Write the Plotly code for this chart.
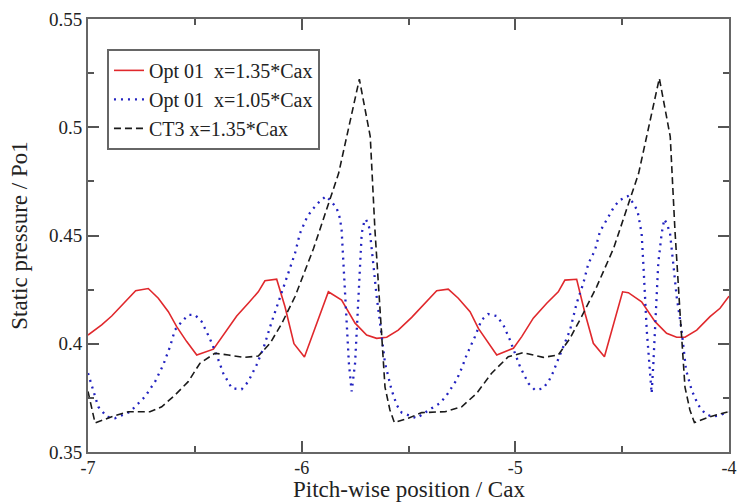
import plotly.graph_objects as go

# ---- data ----
red_x = [-7.000, -6.936, -6.889, -6.842, -6.777, -6.718, -6.671, -6.624, -6.585, -6.538,
         -6.491, -6.413, -6.359, -6.304, -6.250, -6.203, -6.172, -6.117, -6.078, -6.036,
         -5.987, -5.875, -5.813, -5.750, -5.696, -5.649, -5.602, -5.548, -5.485, -5.431,
         -5.368, -5.314, -5.267, -5.212, -5.173, -5.087, -5.009, -4.970, -4.916, -4.853,
         -4.799, -4.768, -4.713, -4.674, -4.635, -4.583, -4.498, -4.471, -4.409, -4.346,
         -4.292, -4.245, -4.206, -4.151, -4.089, -4.042, -4.000]
red_y = [0.4040, 0.4087, 0.4128, 0.4175, 0.4245, 0.4255, 0.4210, 0.4148, 0.4079, 0.4010,
         0.3948, 0.3975, 0.4048, 0.4128, 0.4187, 0.4240, 0.4291, 0.4298, 0.4171, 0.4000,
         0.3939, 0.4240, 0.4202, 0.4095, 0.4040, 0.4025, 0.4030, 0.4063, 0.4122, 0.4180,
         0.4245, 0.4252, 0.4210, 0.4148, 0.4071, 0.3948, 0.3979, 0.4033, 0.4118, 0.4187,
         0.4240, 0.4294, 0.4298, 0.4141, 0.4002, 0.3940, 0.4240, 0.4236, 0.4194, 0.4102,
         0.4048, 0.4030, 0.4030, 0.4063, 0.4125, 0.4164, 0.4220]

blue_x = [-7.000, -6.975, -6.952, -6.912, -6.874, -6.803, -6.765, -6.733, -6.686, -6.648,
          -6.616, -6.593, -6.561, -6.531, -6.499, -6.468, -6.429, -6.398, -6.367, -6.327,
          -6.281, -6.250, -6.211, -6.179, -6.140, -6.101, -6.070, -6.031, -6.008, -5.992,
          -5.974, -5.948, -5.917, -5.886, -5.860, -5.836, -5.821, -5.813, -5.805, -5.797,
          -5.789, -5.779, -5.766, -5.750, -5.742, -5.735, -5.727, -5.719, -5.708, -5.699,
          -5.685, -5.680, -5.665, -5.649, -5.629, -5.610, -5.579, -5.555, -5.532, -5.462,
          -5.392, -5.353, -5.321, -5.275, -5.251, -5.228, -5.189, -5.158, -5.127, -5.087,
          -5.056, -5.025, -4.978, -4.939, -4.908, -4.869, -4.841, -4.822, -4.807, -4.776,
          -4.744, -4.713, -4.682, -4.658, -4.627, -4.604, -4.580, -4.560, -4.538, -4.510,
          -4.474, -4.448, -4.428, -4.420, -4.414, -4.409, -4.401, -4.393, -4.385, -4.373,
          -4.362, -4.354, -4.346, -4.338, -4.331, -4.315, -4.303, -4.290, -4.276, -4.261,
          -4.245, -4.222, -4.201, -4.175, -4.144, -4.113, -4.081, -4.042, -4.003]
blue_y = [0.3864, 0.3779, 0.3709, 0.3663, 0.3656, 0.3686, 0.3725, 0.3756, 0.3825, 0.3902,
          0.3987, 0.4064, 0.4102, 0.4133, 0.4133, 0.4102, 0.4022, 0.3948, 0.3864, 0.3794,
          0.3790, 0.3825, 0.3902, 0.3979, 0.4102, 0.4218, 0.4302, 0.4418, 0.4510, 0.4548,
          0.4587, 0.4622, 0.4656, 0.4682, 0.4656, 0.4625, 0.4580, 0.4525, 0.4371, 0.4218,
          0.4063, 0.3910, 0.3780, 0.3910, 0.4063, 0.4218, 0.4373, 0.4510, 0.4560, 0.4575,
          0.4540, 0.4510, 0.4371, 0.4218, 0.4063, 0.3910, 0.3786, 0.3717, 0.3682, 0.3656,
          0.3702, 0.3725, 0.3763, 0.3833, 0.3887, 0.3948, 0.4033, 0.4110, 0.4137, 0.4128,
          0.4087, 0.4017, 0.3894, 0.3817, 0.3786, 0.3794, 0.3833, 0.3871, 0.3910, 0.3987,
          0.4063, 0.4187, 0.4279, 0.4371, 0.4433, 0.4518, 0.4556, 0.4594, 0.4633, 0.4664,
          0.4682, 0.4649, 0.4613, 0.4572, 0.4525, 0.4510, 0.4371, 0.4218, 0.4063, 0.3910,
          0.3771, 0.3910, 0.4063, 0.4218, 0.4373, 0.4510, 0.4575, 0.4553, 0.4510, 0.4371,
          0.4218, 0.4063, 0.3879, 0.3786, 0.3717, 0.3679, 0.3663, 0.3670, 0.3686]

ct3_x = [-7.000, -6.967, -6.889, -6.811, -6.710, -6.655, -6.593, -6.531, -6.476, -6.406,
         -6.343, -6.273, -6.203, -6.148, -6.093, -6.031, -5.944, -5.827, -5.730, -5.679,
         -5.657, -5.633, -5.610, -5.587, -5.566, -5.501, -5.438, -5.329, -5.251, -5.181,
         -5.111, -5.033, -4.963, -4.869, -4.799, -4.744, -4.690, -4.619, -4.540, -4.423,
         -4.326, -4.275, -4.253, -4.229, -4.206, -4.183, -4.162, -4.089, -4.003]
ct3_y = [0.3780, 0.3634, 0.3663, 0.3686, 0.3686, 0.3709, 0.3763, 0.3825, 0.3910, 0.3956,
         0.3948, 0.3937, 0.3943, 0.4002, 0.4094, 0.4218, 0.4441, 0.4787, 0.5222, 0.4957,
         0.4525, 0.4140, 0.3800, 0.3694, 0.3636, 0.3656, 0.3682, 0.3686, 0.3709, 0.3771,
         0.3864, 0.3940, 0.3959, 0.3937, 0.3948, 0.4025, 0.4125, 0.4264, 0.4441, 0.4787,
         0.5226, 0.4957, 0.4525, 0.4140, 0.3800, 0.3694, 0.3636, 0.3663, 0.3686]

names = ["Opt 01\u00a0 x=1.35*Cax", "Opt 01\u00a0 x=1.05*Cax", "CT3 x=1.35*Cax"]
x_title = "Pitch-wise position / Cax"
y_title = "Static pressure / Po1"
x_tickvals = [-7, -6, -5, -4]
x_ticktext = ["-7", "-6", "-5", "-4"]
y_tickvals = [0.35, 0.4, 0.45, 0.5, 0.55]
y_ticktext = ["0.35", "0.4", "0.45", "0.5", "0.55"]

FONT = "Liberation Serif"
TXT = "#222222"

fig = go.Figure()
fig.add_trace(go.Scatter(x=red_x, y=red_y, mode="lines", name=names[0],
                         line=dict(color="#e0282c", width=1.6)))
fig.add_trace(go.Scatter(x=blue_x, y=blue_y, mode="lines", name=names[1],
                         line=dict(color="#2222c0", width=2.3, dash="2px,5px")))
fig.add_trace(go.Scatter(x=ct3_x, y=ct3_y, mode="lines", name=names[2],
                         line=dict(color="#1a1a1a", width=1.6, dash="7px,4px")))

axis_common = dict(
    showgrid=False, zeroline=False, showline=True, linecolor="#666666", linewidth=2,
    mirror="allticks", ticks="inside", ticklen=11, tickwidth=1.5, tickcolor="#555555",
    automargin=False,
)

fig.update_xaxes(range=[-7, -4], tickvals=x_tickvals, ticktext=x_ticktext,
                 tickfont=dict(family=FONT, size=18, color=TXT), ticklabelstandoff=-2,
                 minor=dict(ticks="inside", ticklen=6, dtick=0.5, tick0=-7,
                            tickcolor="#555555", tickwidth=1.5),
                 **axis_common)
fig.update_yaxes(range=[0.35, 0.55], tickvals=y_tickvals, ticktext=y_ticktext,
                 tickfont=dict(family=FONT, size=19, color=TXT),
                 minor=dict(ticks="inside", ticklen=6, dtick=0.025, tick0=0.35,
                            tickcolor="#555555", tickwidth=1.5),
                 title=dict(text=y_title, font=dict(family=FONT, size=23, color=TXT)),
                 **axis_common)

# x-axis title placed just under the tick labels, as in the reference
fig.add_annotation(text=x_title, xref="paper", yref="paper", x=0.5, y=-0.1178,
                   xanchor="center", yanchor="bottom", showarrow=False, borderpad=0,
                   font=dict(family=FONT, size=23, color=TXT))

fig.update_layout(
    width=744, height=503,
    margin=dict(l=88, r=15, t=19, b=51),
    paper_bgcolor="white", plot_bgcolor="white",
    showlegend=True,
    legend=dict(x=0.0296, y=0.931, xanchor="left", yanchor="top",
                bgcolor="white", bordercolor="#666666", borderwidth=2,
                font=dict(family=FONT, size=20, color=TXT),
                tracegroupgap=0, itemwidth=30),
)

fig.write_html("out.html", config={"displayModeBar": False},
               post_script="document.body.style.margin='0';document.body.style.overflow='hidden';")
